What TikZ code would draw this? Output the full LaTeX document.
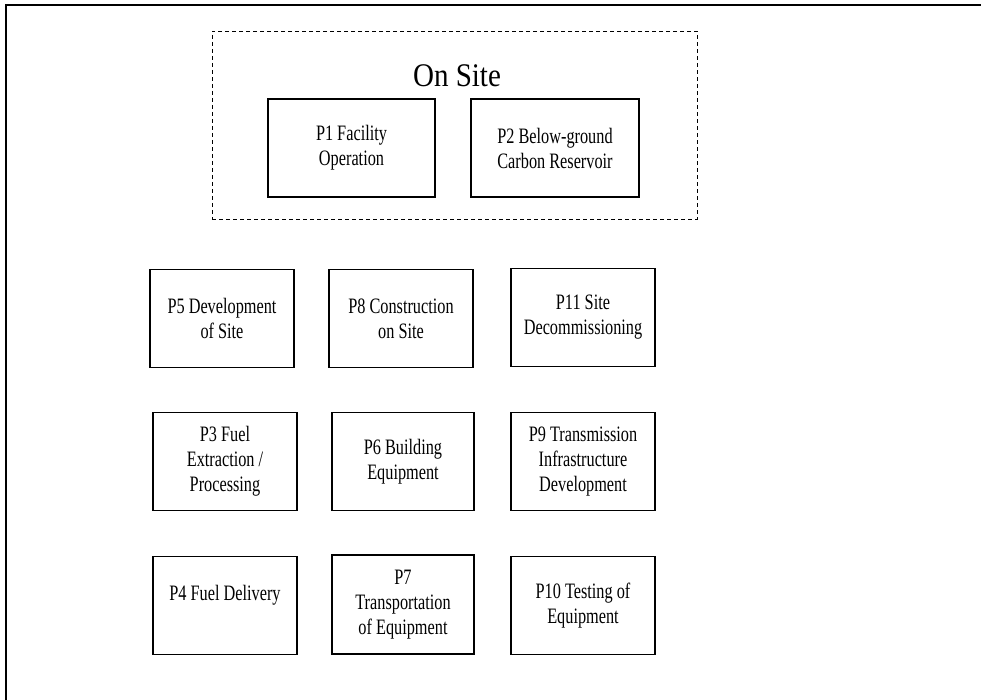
\documentclass[tikz,border=0pt]{standalone}
\usepackage{fontspec}
\setmainfont{Liberation Serif}[FakeStretch=0.74]
\newfontfamily\titlefont{Liberation Serif}[FakeStretch=0.88]
\usetikzlibrary{positioning}
\tikzset{
  phase/.style = {draw, line width=1.3pt, align=center, inner sep=0pt,
    minimum width=144, minimum height=98, font=\fontsize{22}{25}\selectfont},
  sitebox/.style = {draw, line width=0.8pt, dash pattern=on 4pt off 3pt,
    minimum width=485, minimum height=188, inner sep=0pt},
  frame/.style = {draw, line width=1.8pt}
}

\begin{document}
\begin{tikzpicture}[x=1pt, y=-1pt]
  \clip (0,0) rectangle (981,700);
  \path[frame] (6,5) rectangle (1010,720);
  % on site group
  \node[sitebox] (onsite) at (454.5,125) {};
  \node[font=\titlefont\fontsize{33}{36}\selectfont] (onsitelbl) at (457,76) {On Site};
  \node[phase, minimum width=167] (p1) at (351.5,148) {P1 Facility\\Operation};
  \node[phase, minimum width=168] (p2) at (555,148) {P2 Below-ground\\Carbon Reservoir};
  % grid of phases
  \node[phase] (p5) at (222,318.5) {P5 Development\\of Site};
  \node[phase] (p8) at (401,318.5) {P8 Construction\\on Site};
  \node[phase] (p11) at (583,317.5) {P11 Site\\Decommissioning};
  \node[phase] (p3) at (225,461.5) {P3 Fuel\\Extraction /\\Processing};
  \node[phase, minimum width=142] (p6) at (403,461.5) {P6 Building\\Equipment};
  \node[phase] (p9) at (583,461.5) {P9 Transmission\\Infrastructure\\Development};
  \node[phase] (p4) at (225,605.5) {P4 Fuel Delivery\\\phantom{X}};
  \node[phase, minimum width=142, minimum height=99] (p7) at (403,604.5) {P7\\Transportation\\of Equipment};
  \node[phase] (p10) at (583,605.5) {P10 Testing of\\Equipment};
\end{tikzpicture}
\end{document}
